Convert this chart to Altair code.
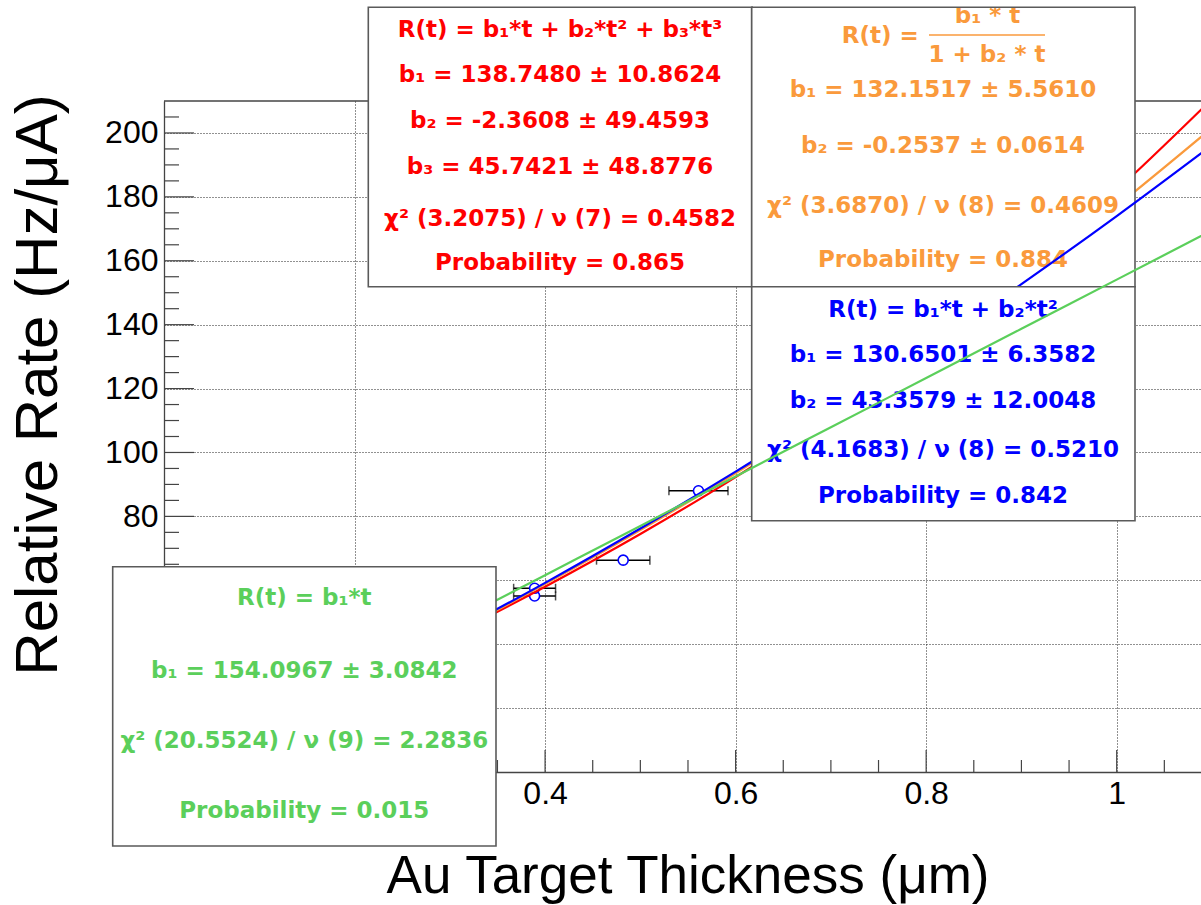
import altair as alt
import pandas as pd

# ---------------- data ----------------
# visible measured points (the rest are hidden behind the stat boxes)
pt_t = [0.389, 0.389, 0.482, 0.561]
pt_rate = [55.1, 57.5, 66.3, 88.0]
pt_t_err = [0.022, 0.022, 0.028, 0.031]
pt_rate_err = [0.6, 0.6, 0.8, 1.8]

# fitted curves, sampled along thickness
fit_t = [0.0, 0.1, 0.2, 0.3, 0.4, 0.5, 0.6, 0.7, 0.8, 0.9, 1.0, 1.1]
fit_cubic = [0.0, 13.9, 28.0, 42.6, 58.0, 74.5, 92.3, 111.7, 132.9, 156.3, 182.1, 210.6]
fit_ratio = [0.0, 13.6, 27.8, 42.9, 58.8, 75.7, 93.5, 112.5, 132.6, 154.1, 177.1, 201.6]
fit_quad = [0.0, 13.5, 27.9, 43.1, 59.2, 76.2, 94.0, 112.7, 132.3, 152.7, 174.0, 196.2]
fit_linear = [0.0, 15.4, 30.8, 46.2, 61.6, 77.0, 92.5, 107.9, 123.3, 138.7, 154.1, 169.5]

# axis ticks
x_major = [0.0, 0.2, 0.4, 0.6, 0.8, 1.0]
x_minor = [0.05, 0.1, 0.15, 0.25, 0.3, 0.35, 0.45, 0.5, 0.55, 0.65, 0.7, 0.75,
           0.85, 0.9, 0.95, 1.05]
y_major = [0, 20, 40, 60, 80, 100, 120, 140, 160, 180, 200]
y_minor = [5, 10, 15, 25, 30, 35, 45, 50, 55, 65, 70, 75, 85, 90, 95, 105, 110, 115,
           125, 130, 135, 145, 150, 155, 165, 170, 175, 185, 190, 195, 205]

# stat box texts
red_lines = ["R(t) = b₁*t + b₂*t² + b₃*t³",
             "b₁ = 138.7480 ± 10.8624",
             "b₂ = -2.3608 ± 49.4593",
             "b₃ = 45.7421 ± 48.8776",
             "χ² (3.2075) /  ν (7) = 0.4582",
             "Probability = 0.865"]
orange_formula = ["R(t) =", "b₁ * t", "1 + b₂ * t"]
orange_lines = ["b₁ = 132.1517 ± 5.5610",
                "b₂ = -0.2537 ± 0.0614",
                "χ² (3.6870) /  ν (8) = 0.4609",
                "Probability = 0.884"]
blue_lines = ["R(t) = b₁*t + b₂*t²",
              "b₁ = 130.6501 ± 6.3582",
              "b₂ = 43.3579 ± 12.0048",
              "χ² (4.1683) /  ν (8) = 0.5210",
              "Probability = 0.842"]
green_lines = ["R(t) = b₁*t",
               "b₁ = 154.0967 ± 3.0842",
               "χ² (20.5524) /  ν (9) = 2.2836",
               "Probability = 0.015"]

x_title = "Au Target Thickness (μm)"
y_title = "Relative Rate (Hz/μA)"

# ---------------- layout ----------------
OX, OY = 164, 101          # plot origin on the page
W, H = 1037, 671
X_MAX = W / 952.7
RED, ORANGE, BLUE, GREEN = "#ff0000", "#fa9a3c", "#0000ff", "#5bcf5b"
FRAME = "#444444"
BOXLINE = "#5a5a5a"

xs = alt.Scale(domain=[0, X_MAX], nice=False, zero=False)
ys = alt.Scale(domain=[0, 210], nice=False, zero=False)

common_axis = dict(grid=True, gridDash=[1, 2], gridColor="#222222", gridWidth=1,
                   ticks=False, tickSize=0, domain=True, domainColor=FRAME,
                   domainWidth=1.3, labelFont="Liberation Sans", labelFontSize=32,
                   labelColor="black", labelFlush=False, labelOverlap=False,
                   title=None, zindex=0, labelPadding=6)
# labels that sit under the lower-left stat box are left blank
xaxis = alt.Axis(values=x_major,
                 labelExpr="datum.value < 0.3 ? '' : format(datum.value, '~g')",
                 **common_axis)
yaxis = alt.Axis(values=y_major,
                 labelExpr="datum.value < 70 ? '' : format(datum.value, 'd')",
                 **common_axis)

one = pd.DataFrame({"k": [0]})
pts = pd.DataFrame({"t": pt_t, "r": pt_rate, "te": pt_t_err, "re": pt_rate_err})


def X(field):
    return alt.X(field, type="quantitative", scale=xs, axis=xaxis)


def Y(field):
    return alt.Y(field, type="quantitative", scale=ys, axis=yaxis)


def px(v):
    return v - OX


def py(v):
    return v - OY


def txt(s, x, y, color, size=23, weight="bold", align="center",
        font="DejaVu Sans", angle=0):
    return alt.Chart(one).mark_text(
        text=s, font=font, fontSize=size, fontWeight=weight, color=color,
        align=align, baseline="alphabetic", angle=angle
    ).encode(x=alt.value(px(x)), y=alt.value(py(y)))


def box(x1, y1, x2, y2):
    return alt.Chart(one).mark_rect(fill="white", stroke=BOXLINE, strokeWidth=1.6).encode(
        x=alt.value(px(x1)), x2=alt.value(px(x2)), y=alt.value(py(y1)), y2=alt.value(py(y2)))


def curve(vals, color):
    df = pd.DataFrame({"t": fit_t, "r": vals})
    return alt.Chart(df).mark_line(color=color, strokeWidth=2.2, clip=True,
                                   interpolate="monotone").encode(x=X("t"), y=Y("r"))


calc_x = dict(lo="datum.t - datum.te", hi="datum.t + datum.te")
calc_y = dict(lo="datum.r - datum.re", hi="datum.r + datum.re")

layers = []

# error bars
layers.append(
    alt.Chart(pts).transform_calculate(**calc_x)
    .mark_rule(color="black", strokeWidth=1.5)
    .encode(x=X("lo"), x2="hi:Q", y=Y("r"))
)
for f in ["lo", "hi"]:
    layers.append(
        alt.Chart(pts).transform_calculate(**calc_x)
        .mark_tick(orient="vertical", size=9, thickness=1.5, color="black")
        .encode(x=X(f), y=Y("r"))
    )
layers.append(
    alt.Chart(pts).transform_calculate(**calc_y)
    .mark_rule(color="black", strokeWidth=1.5)
    .encode(x=X("t"), y=Y("lo"), y2="hi:Q")
)
layers.append(
    alt.Chart(pts).mark_point(shape="circle", fill="white", fillOpacity=1, stroke=BLUE,
                              strokeWidth=1.6, size=100, opacity=1)
    .encode(x=X("t"), y=Y("r"))
)

# inward ticks
for vals, ln in [(x_major, 22), (x_minor, 12)]:
    layers.append(
        alt.Chart(pd.DataFrame({"t": vals})).mark_rule(color=FRAME, strokeWidth=1.2)
        .encode(x=X("t"), y=alt.value(H), y2=alt.value(H - ln))
    )
for vals, ln in [(y_major, 30), (y_minor, 15)]:
    layers.append(
        alt.Chart(pd.DataFrame({"r": vals})).mark_rule(color=FRAME, strokeWidth=1.2)
        .encode(y=Y("r"), x=alt.value(0), x2=alt.value(ln))
    )
# top frame line
layers.append(alt.Chart(one).mark_rule(color=FRAME, strokeWidth=1.3).encode(
    x=alt.value(0), x2=alt.value(W), y=alt.value(0)))

# red & orange fits, then their boxes
layers.append(curve(fit_cubic, RED))
layers.append(curve(fit_ratio, ORANGE))

layers.append(box(368.3, 7.3, 751.7, 286.7))
for s, b in zip(red_lines, [36.7, 81.7, 128.3, 174.0, 225.7, 270.0]):
    layers.append(txt(s, 560, b, RED))

layers.append(box(751.7, 7.3, 1135, 286.7))
layers.append(txt(orange_formula[0], 841.7, 42.7, ORANGE, align="left"))
layers.append(txt(orange_formula[1], 987.5, 22.5, ORANGE))
layers.append(alt.Chart(one).mark_rect(fill="white").encode(
    x=alt.value(px(753)), x2=alt.value(px(1134)), y=alt.value(py(0)), y2=alt.value(py(7.3))))
layers.append(alt.Chart(one).mark_rule(color=BOXLINE, strokeWidth=1.6).encode(
    x=alt.value(px(751.7)), x2=alt.value(px(1135)), y=alt.value(py(7.3))))
layers.append(alt.Chart(one).mark_rule(color=ORANGE, strokeWidth=1.5).encode(
    x=alt.value(px(929)), x2=alt.value(px(1045)), y=alt.value(py(35))))
layers.append(txt(orange_formula[2], 987, 61.7, ORANGE))
for s, b in zip(orange_lines, [96.7, 153.3, 213.3, 266.7]):
    layers.append(txt(s, 943, b, ORANGE))

# blue fit and box
layers.append(curve(fit_quad, BLUE))
layers.append(box(751.7, 286.7, 1135, 520.7))
for s, b in zip(blue_lines, [317.3, 361.7, 408.3, 456.7, 503.3]):
    layers.append(txt(s, 943, b, BLUE))

# green fit and box
layers.append(curve(fit_linear, GREEN))
layers.append(box(112.7, 566.7, 496, 846))
for s, b in zip(green_lines, [605.0, 678.3, 748.3, 818.3]):
    layers.append(txt(s, 304.3, b, GREEN))

# axis titles
layers.append(txt(x_title, 688, 893, "black", size=53, weight="normal",
                  font="Liberation Sans"))
layers.append(txt(y_title, 57, 385, "black", size=60, weight="normal",
                  font="Liberation Sans", angle=270))

chart = alt.layer(*layers).resolve_scale(x="shared", y="shared").properties(
    width=W, height=H,
    autosize=alt.AutoSizeParams(type="none"),
    padding={"left": OX, "top": OY, "right": 0, "bottom": 905 - OY - H},
    background="white",
).configure_view(stroke=None)

chart.save("out.html", embed_options={"renderer": "svg", "actions": False})
